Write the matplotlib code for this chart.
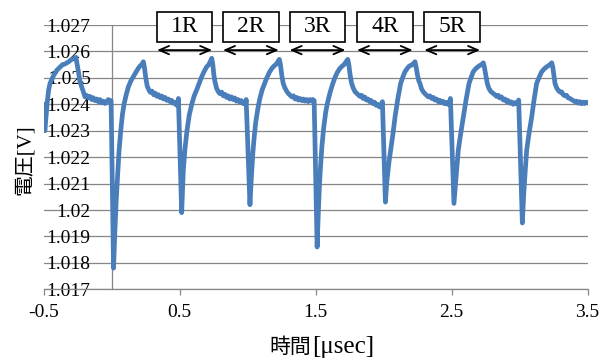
import matplotlib
matplotlib.use("Agg")
import matplotlib.pyplot as plt
from matplotlib.patches import Rectangle
from matplotlib.offsetbox import TextArea, HPacker, AnnotationBbox

plt.rcParams['axes.unicode_minus'] = False

# waveform, one pair of lists per pulse
t_pre = [-0.500, -0.490, -0.480, -0.472, -0.462, -0.452, -0.438, -0.425, -0.412, -0.400,
         -0.380, -0.360, -0.345, -0.330, -0.312, -0.295, -0.278, -0.262, -0.252, -0.242,
         -0.232, -0.222, -0.210, -0.195, -0.183, -0.170, -0.158, -0.146, -0.134, -0.122,
         -0.109, -0.097, -0.085, -0.073, -0.061, -0.048, -0.036, -0.023, -0.012, -0.003]
v_pre = [1.02400, 1.02300, 1.02360, 1.02410, 1.02455, 1.02479, 1.02495, 1.02510, 1.02520, 1.02530,
         1.02540, 1.02550, 1.02552, 1.02556, 1.02562, 1.02570, 1.02572, 1.02578, 1.02550, 1.02520,
         1.02485, 1.02470, 1.02452, 1.02428, 1.02434, 1.02424, 1.02430, 1.02418, 1.02425, 1.02414,
         1.02420, 1.02410, 1.02418, 1.02406, 1.02412, 1.02403, 1.02410, 1.02418, 1.02410, 1.02414]

t_p1 = [0.015, 0.025, 0.035, 0.043, 0.055, 0.068, 0.080, 0.092, 0.108, 0.124,
        0.142, 0.160, 0.178, 0.197, 0.210, 0.222, 0.234, 0.242, 0.252, 0.262,
        0.274, 0.286, 0.298, 0.310, 0.322, 0.334, 0.346, 0.358, 0.370, 0.382,
        0.394, 0.406, 0.418, 0.430, 0.442, 0.454, 0.466, 0.478, 0.486, 0.492]
v_p1 = [1.01780, 1.01920, 1.02040, 1.02110, 1.02220, 1.02300, 1.02360, 1.02400, 1.02436, 1.02466,
        1.02488, 1.02504, 1.02520, 1.02536, 1.02545, 1.02550, 1.02561, 1.02540, 1.02500, 1.02470,
        1.02455, 1.02445, 1.02450, 1.02436, 1.02442, 1.02430, 1.02436, 1.02425, 1.02431, 1.02420,
        1.02426, 1.02415, 1.02420, 1.02410, 1.02415, 1.02404, 1.02408, 1.02397, 1.02398, 1.02422]

t_p2 = [0.516, 0.522, 0.528, 0.540, 0.555, 0.572, 0.590, 0.608, 0.626, 0.645,
        0.663, 0.682, 0.700, 0.712, 0.725, 0.737, 0.745, 0.753, 0.761, 0.773,
        0.785, 0.798, 0.810, 0.822, 0.834, 0.846, 0.858, 0.870, 0.882, 0.894,
        0.906, 0.918, 0.930, 0.942, 0.954, 0.966, 0.978, 0.986, 0.990]
v_p2 = [1.01990, 1.02070, 1.02150, 1.02230, 1.02300, 1.02360, 1.02400, 1.02432, 1.02454, 1.02480,
        1.02504, 1.02525, 1.02542, 1.02548, 1.02560, 1.02574, 1.02550, 1.02510, 1.02485, 1.02460,
        1.02448, 1.02440, 1.02446, 1.02432, 1.02438, 1.02426, 1.02432, 1.02420, 1.02428, 1.02418,
        1.02424, 1.02412, 1.02418, 1.02408, 1.02414, 1.02403, 1.02408, 1.02400, 1.02418]

t_p3 = [1.018, 1.028, 1.040, 1.050, 1.060, 1.075, 1.090, 1.108, 1.125, 1.142,
        1.160, 1.178, 1.195, 1.208, 1.222, 1.234, 1.242, 1.252, 1.262, 1.275,
        1.290, 1.302, 1.314, 1.326, 1.338, 1.350, 1.362, 1.374, 1.386, 1.398,
        1.410, 1.422, 1.434, 1.446, 1.458, 1.470, 1.480, 1.490]
v_p3 = [1.02020, 1.02120, 1.02220, 1.02280, 1.02330, 1.02380, 1.02420, 1.02455, 1.02478, 1.02500,
        1.02520, 1.02535, 1.02545, 1.02550, 1.02560, 1.02570, 1.02550, 1.02510, 1.02480, 1.02462,
        1.02448, 1.02440, 1.02434, 1.02428, 1.02432, 1.02420, 1.02426, 1.02416, 1.02422, 1.02414,
        1.02420, 1.02412, 1.02418, 1.02410, 1.02418, 1.02412, 1.02418, 1.02414]

t_p4 = [1.512, 1.520, 1.527, 1.535, 1.547, 1.560, 1.575, 1.590, 1.608, 1.625,
        1.642, 1.660, 1.678, 1.697, 1.710, 1.724, 1.737, 1.745, 1.755, 1.765,
        1.777, 1.790, 1.802, 1.814, 1.826, 1.838, 1.850, 1.862, 1.874, 1.886,
        1.898, 1.910, 1.922, 1.934, 1.946, 1.958, 1.970, 1.980, 1.992]
v_p4 = [1.01860, 1.01980, 1.02070, 1.02150, 1.02240, 1.02310, 1.02370, 1.02410, 1.02446, 1.02475,
        1.02500, 1.02520, 1.02535, 1.02545, 1.02550, 1.02560, 1.02570, 1.02550, 1.02510, 1.02480,
        1.02462, 1.02448, 1.02442, 1.02436, 1.02430, 1.02434, 1.02422, 1.02428, 1.02416, 1.02420,
        1.02410, 1.02414, 1.02403, 1.02408, 1.02396, 1.02400, 1.02390, 1.02394, 1.02410]

t_p5 = [2.014, 2.025, 2.040, 2.053, 2.070, 2.085, 2.105, 2.126, 2.142, 2.158,
        2.175, 2.190, 2.205, 2.218, 2.232, 2.240, 2.250, 2.260, 2.268, 2.280,
        2.293, 2.305, 2.317, 2.329, 2.341, 2.354, 2.366, 2.378, 2.390, 2.402,
        2.414, 2.426, 2.438, 2.450, 2.462, 2.474, 2.484, 2.492]
v_p5 = [1.02030, 1.02110, 1.02180, 1.02227, 1.02290, 1.02353, 1.02420, 1.02479, 1.02503, 1.02523,
        1.02536, 1.02545, 1.02548, 1.02553, 1.02561, 1.02540, 1.02510, 1.02488, 1.02479, 1.02458,
        1.02447, 1.02440, 1.02434, 1.02428, 1.02432, 1.02422, 1.02426, 1.02416, 1.02420, 1.02410,
        1.02415, 1.02406, 1.02411, 1.02402, 1.02407, 1.02400, 1.02405, 1.02422]

t_p6 = [2.518, 2.530, 2.540, 2.550, 2.568, 2.587, 2.608, 2.629, 2.645, 2.660,
        2.675, 2.690, 2.705, 2.720, 2.734, 2.742, 2.752, 2.763, 2.775, 2.790,
        2.807, 2.819, 2.831, 2.843, 2.855, 2.867, 2.881, 2.893, 2.905, 2.917,
        2.929, 2.941, 2.954, 2.966, 2.978, 2.986, 2.994]
v_p6 = [1.02025, 1.02100, 1.02160, 1.02227, 1.02290, 1.02353, 1.02420, 1.02479, 1.02503, 1.02523,
        1.02533, 1.02540, 1.02546, 1.02550, 1.02557, 1.02540, 1.02510, 1.02479, 1.02460, 1.02448,
        1.02441, 1.02436, 1.02430, 1.02434, 1.02424, 1.02428, 1.02416, 1.02420, 1.02410, 1.02414,
        1.02404, 1.02409, 1.02400, 1.02406, 1.02402, 1.02408, 1.02416]

t_p7 = [3.021, 3.030, 3.041, 3.053, 3.070, 3.090, 3.108, 3.126, 3.145, 3.163,
        3.180, 3.195, 3.210, 3.224, 3.237, 3.245, 3.253, 3.261, 3.273, 3.286,
        3.298, 3.310, 3.322, 3.334, 3.346, 3.358, 3.371, 3.383, 3.395, 3.407,
        3.420, 3.432, 3.444, 3.456, 3.468, 3.480, 3.490, 3.500]
v_p7 = [1.01951, 1.02050, 1.02140, 1.02227, 1.02290, 1.02353, 1.02420, 1.02479, 1.02503, 1.02523,
        1.02533, 1.02540, 1.02545, 1.02550, 1.02557, 1.02540, 1.02510, 1.02479, 1.02462, 1.02452,
        1.02446, 1.02447, 1.02436, 1.02432, 1.02434, 1.02424, 1.02422, 1.02418, 1.02414, 1.02410,
        1.02412, 1.02404, 1.02410, 1.02402, 1.02408, 1.02403, 1.02408, 1.02406]

time_us = t_pre + t_p1 + t_p2 + t_p3 + t_p4 + t_p5 + t_p6 + t_p7
voltage_v = v_pre + v_p1 + v_p2 + v_p3 + v_p4 + v_p5 + v_p6 + v_p7

x_ticks = [-0.5, 0.5, 1.5, 2.5, 3.5]
x_tick_labels = ['-0.5', '0.5', '1.5', '2.5', '3.5']
y_ticks = [1.017, 1.018, 1.019, 1.020, 1.021, 1.022, 1.023, 1.024, 1.025, 1.026, 1.027]
y_tick_labels = ['1.017', '1.018', '1.019', '1.02', '1.021', '1.022',
                 '1.023', '1.024', '1.025', '1.026', '1.027']

# the "nR" boxes above the trace
box_labels = ['1R', '2R', '3R', '4R', '5R']
box_left = [0.335, 0.820, 1.310, 1.805, 2.300]
box_right = [0.740, 1.230, 1.720, 2.215, 2.710]
box_bottom = 1.02636
box_top = 1.02749
arrow_y = 1.02605

grid_col = '#868686'
line_col = '#4a7ebb'

fig = plt.figure(figsize=(6.01, 3.6), dpi=100)
ax = fig.add_axes([43.5 / 601, 1 - 289.3 / 360, 544 / 601, 264.3 / 360])

# spine position first: it resets the tick labels
for s in ['top', 'right']:
    ax.spines[s].set_visible(False)
ax.spines['left'].set_position(('data', 0))
ax.spines['left'].set_color(grid_col)
ax.spines['bottom'].set_color(grid_col)
ax.spines['left'].set_linewidth(0.9)
ax.spines['bottom'].set_linewidth(0.9)

ax.plot(time_us, voltage_v, color=line_col, lw=3.4, solid_joinstyle='round', zorder=3)

ax.set_xlim(-0.5, 3.5)
ax.set_ylim(1.017, 1.027)
ax.set_xticks(x_ticks)
ax.set_xticklabels(x_tick_labels, fontfamily='Liberation Serif', fontsize=14)
ax.set_yticks(y_ticks)
ax.set_yticklabels(y_tick_labels, fontfamily='Liberation Serif', fontsize=14)

ax.grid(axis='y', color=grid_col, lw=0.9)
ax.set_axisbelow(True)
ax.tick_params(axis='x', direction='out', length=4.5, width=0.9, color=grid_col, pad=6)
ax.tick_params(axis='y', length=0, pad=15)

for lab, x0, x1 in zip(box_labels, box_left, box_right):
    ax.add_patch(Rectangle((x0, box_bottom), x1 - x0, box_top - box_bottom,
                           facecolor='white', edgecolor='black', lw=1.2,
                           clip_on=False, zorder=5))
    ax.text((x0 + x1) / 2, (box_bottom + box_top) / 2, lab, ha='center', va='center',
            fontfamily='Liberation Serif', fontsize=17, zorder=6, clip_on=False)
    ax.annotate('', xy=(x1, arrow_y), xytext=(x0, arrow_y),
                arrowprops=dict(arrowstyle='<->,head_length=0.7,head_width=0.3',
                                color='black', lw=1.3, shrinkA=0, shrinkB=0,
                                mutation_scale=10),
                annotation_clip=False, zorder=6)

# axis titles
fig.text(25 / 601, 1 - 160 / 360, '電圧[V]', rotation=90, ha='center', va='center',
         fontsize=15, family=['Liberation Serif', 'Noto Sans CJK JP'])
xlab = HPacker(children=[
    TextArea('時間', textprops=dict(fontfamily='Noto Sans CJK JP', fontsize=15)),
    TextArea('[μsec]', textprops=dict(fontfamily='Liberation Serif', fontsize=18)),
], align='baseline', pad=0, sep=1)
fig.add_artist(AnnotationBbox(xlab, (322 / 601, 1 - 347 / 360), xycoords='figure fraction',
                              frameon=False, box_alignment=(0.5, 0.5)))

fig.savefig('out.png', dpi=100)
